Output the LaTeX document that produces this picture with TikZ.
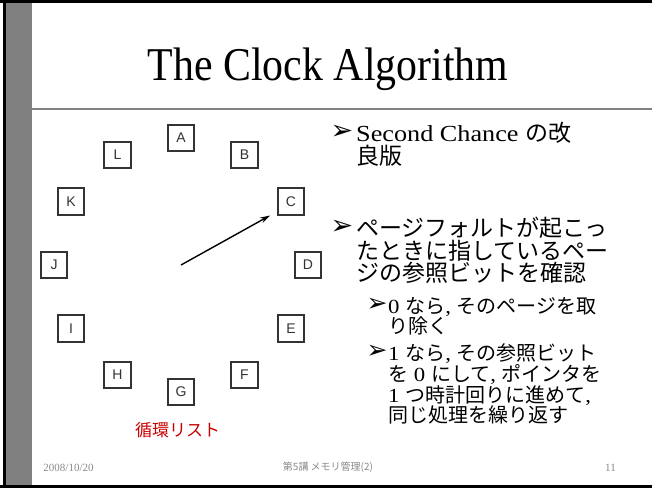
\documentclass[tikz,border=0pt]{standalone}
\usepackage{fontspec}
\setmainfont{Liberation Serif}
\newfontfamily\jp{Noto Sans CJK JP}
\newfontfamily\boxfont{Liberation Sans}
\newfontfamily\dv{DejaVu Sans}
\newfontfamily\titlefont{Liberation Serif}[FakeStretch=0.89]
\newfontfamily\lat{Liberation Serif}[FakeStretch=1.14]
\usetikzlibrary{arrows.meta}
\definecolor{framegray}{HTML}{808080}
\definecolor{boxc}{HTML}{333333}
\definecolor{redc}{HTML}{C80000}
\definecolor{footc}{HTML}{8A8A8A}
\begin{document}
\begin{tikzpicture}[x=1pt,y=-1pt,
  pbox/.style={draw=boxc, line width=1.6pt, minimum size=26.5pt, inner sep=0pt,
    font=\boxfont\fontsize{14}{14}\selectfont, text=boxc},
  titlestyle/.style={anchor=base, inner sep=0pt, font=\titlefont\fontsize{47}{47}\selectfont},
  lone/.style={anchor=base west, inner sep=0pt, font=\lat\fontsize{23}{23}\selectfont},
  ltwo/.style={anchor=base west, inner sep=0pt, font=\lat\fontsize{20}{20}\selectfont},
  bulone/.style={anchor=center, inner sep=0pt, font=\dv\fontsize{27}{27}\selectfont},
  bultwo/.style={anchor=center, inner sep=0pt, font=\dv\fontsize{25}{25}\selectfont},
  hand/.style={line width=1.4pt, -{Stealth[length=10pt,width=6pt]}},
  footer/.style={anchor=center, inner sep=0pt, text=footc},
  redlabel/.style={anchor=center, inner sep=0pt, text=redc, font=\jp\fontsize{17}{17}\selectfont}
]
\useasboundingbox (0,0) rectangle (652,488);
% slide frame
\fill[white] (0,0) rectangle (652,488);
\fill[black] (0,0) rectangle (652,3);
\fill[black] (3,0) rectangle (6,488);
\fill[black] (0,485) rectangle (652,488);
\fill[framegray] (6,3) rectangle (32,485);
\draw[framegray, line width=2.4pt] (32,108.7) -- (652,108.7);

% title
\node[titlestyle] (title) at (328,80) {The Clock Algorithm};

% clock
\coordinate (ctr) at (181,265);
\begin{scope}[shift={(181,265)}]
  \node[pbox] (A) at (-90:127) {A};
  \node[pbox] (B) at (-60:127) {B};
  \node[pbox] (C) at (-30:127) {C};
  \node[pbox] (D) at (0:127) {D};
  \node[pbox] (E) at (30:127) {E};
  \node[pbox] (F) at (60:127) {F};
  \node[pbox] (G) at (90:127) {G};
  \node[pbox] (H) at (120:127) {H};
  \node[pbox] (I) at (150:127) {I};
  \node[pbox] (J) at (180:127) {J};
  \node[pbox] (K) at (210:127) {K};
  \node[pbox] (L) at (240:127) {L};
\end{scope}
\coordinate (tip) at (270,215.5);
\draw[hand] (ctr) -- (tip);
\node[redlabel] (circ) at (177.5,430) {循環リスト};

% bullets level 1
\node[bulone] (b1) at (342,132) {➢};
\node[lone] (t1a) at (356,141) {Second Chance {\jp の改}};
\node[lone] (t1b) at (356,164) {\jp 良版};
\node[bulone] (b2) at (342,227) {➢};
\node[lone] (t2a) at (356,236) {\jp ページフォルトが起こっ};
\node[lone] (t2b) at (356,259) {\jp たときに指しているペー};
\node[lone] (t2c) at (356,281) {\jp ジの参照ビットを確認};
% bullets level 2
\node[bultwo] (b3) at (377,305) {➢};
\node[ltwo] (s1a) at (388,313) {0 {\jp なら}, {\jp そのページを取}};
\node[ltwo] (s1b) at (388,333) {\jp り除く};
\node[bultwo] (b4) at (377,352) {➢};
\node[ltwo] (s2a) at (388,360) {1 {\jp なら}, {\jp その参照ビット}};
\node[ltwo] (s2b) at (388,381) {{\jp を} 0 {\jp にして}, {\jp ポインタを}};
\node[ltwo] (s2c) at (388,402) {1 {\jp つ時計回りに進めて},};
\node[ltwo] (s2d) at (388,422) {\jp 同じ処理を繰り返す};

% footer
\node[footer, font=\fontsize{11}{11}\selectfont] (date) at (68.5,467.5) {2008/10/20};
\node[footer, font=\jp\fontsize{10}{10}\selectfont] (lect) at (328,467.5) {第5講 メモリ管理(2)};
\node[footer, font=\fontsize{11}{11}\selectfont] (pg) at (610.5,467.5) {11};
\end{tikzpicture}
\end{document}
